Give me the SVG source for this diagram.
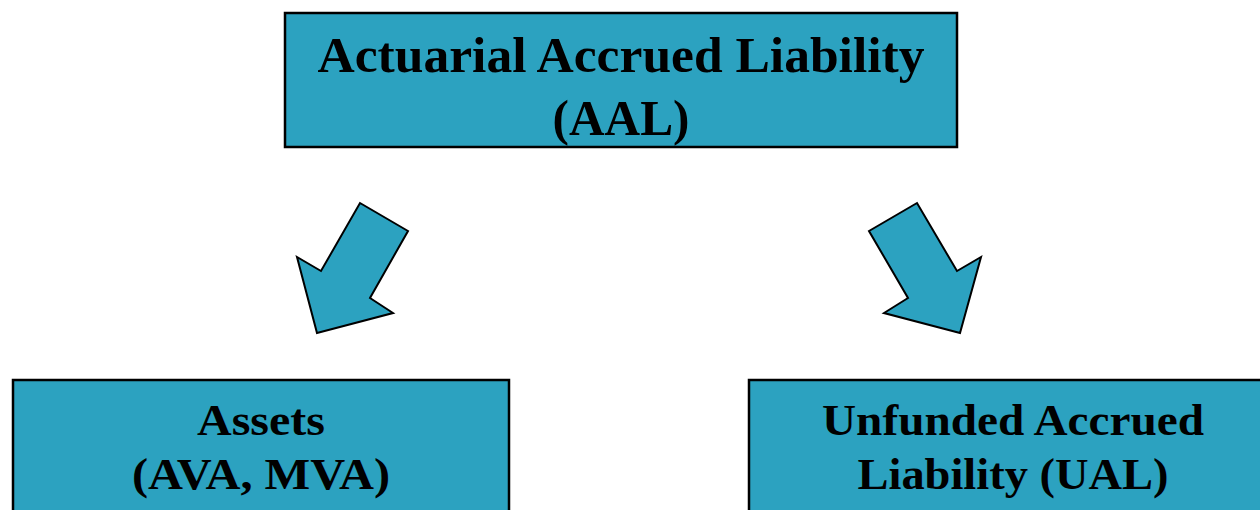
<svg xmlns="http://www.w3.org/2000/svg" width="1260" height="510" viewBox="0 0 1260 510">
<style>
.box{fill:#2CA2C0;stroke:#000;stroke-width:2.5}
.arr{fill:#2CA2C0;stroke:#000;stroke-width:2;stroke-linejoin:miter}
.t{font-family:"Liberation Serif","Times New Roman",serif;font-weight:bold;fill:#000;text-anchor:middle}
.tl{font-size:51px}
.bl{font-size:45px}
</style>
<rect width="1260" height="510" fill="#fff"/>
<g id="aal">
<rect class="box" x="285" y="13" width="672" height="134"/>
<text class="t tl" x="621" y="72" textLength="607" lengthAdjust="spacingAndGlyphs">Actuarial Accrued Liability</text>
<text class="t tl" x="621" y="135" textLength="137" lengthAdjust="spacingAndGlyphs">(AAL)</text>
</g>
<g id="assets">
<rect class="box" x="13" y="380" width="496" height="140"/>
<text class="t bl" x="261" y="435" textLength="128" lengthAdjust="spacingAndGlyphs">Assets</text>
<text class="t bl" x="261" y="489" textLength="258" lengthAdjust="spacingAndGlyphs">(AVA, MVA)</text>
</g>
<g id="ual">
<rect class="box" x="749" y="380" width="530" height="140"/>
<text class="t bl" x="1013" y="435" textLength="382" lengthAdjust="spacingAndGlyphs">Unfunded Accrued</text>
<text class="t bl" x="1013" y="489" textLength="311" lengthAdjust="spacingAndGlyphs">Liability (UAL)</text>
</g>
<g id="connectors">
<polygon class="arr" points="360,203 408,231 370,298 393,313 317,333 297,257 321,271"/>
<polygon class="arr" points="917,203 869,231 908,298 884,313 960,333 981,257 957,271"/>
</g>
</svg>
